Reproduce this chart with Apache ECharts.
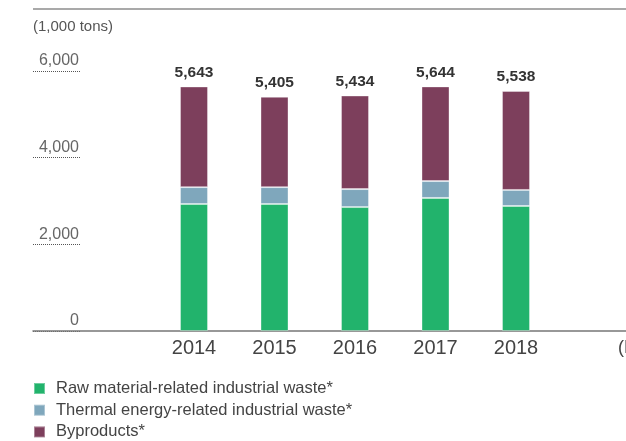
<!DOCTYPE html>
<html>
<head>
<meta charset="utf-8">
<script src="https://cdn.jsdelivr.net/npm/echarts@6/dist/echarts.min.js"></script>
<style>
  html, body { margin: 0; padding: 0; background: #fff; }
  #chart { width: 626px; height: 441px; }
</style>
</head>
<body>
<div id="chart"></div>
<script>
// 数据
const years = ['2014', '2015', '2016', '2017', '2018'];
const rawWaste = [2930, 2930, 2860, 3070, 2885];
const thermalWaste = [390, 390, 415, 390, 370];
const byproducts = [2323, 2085, 2159, 2184, 2283];
const totals = [5643, 5405, 5434, 5644, 5538];
const seriesNames = [
  'Raw material-related industrial waste*',
  'Thermal energy-related industrial waste*',
  'Byproducts*'
];
const colors = ['#22b36c', '#7fa7bc', '#7d3f5c'];

const font = 'Liberation Sans, Arial, sans-serif';

let myChart = echarts.init(document.getElementById('chart'));
let option = {
  animation: false,
  textStyle: { fontFamily: font },
  title: {
    text: '(1,000 tons)',
    left: 28,
    top: 14,
    textStyle: { fontSize: 15, fontWeight: 'normal', color: '#555', fontFamily: font }
  },
  graphic: [{
    type: 'line',
    shape: { x1: 33, y1: 9, x2: 626, y2: 9 },
    style: { stroke: '#8c8c8c', lineWidth: 1.5 }
  }],
  legend: {
    orient: 'vertical',
    left: 33,
    top: 380,
    padding: 0,
    itemWidth: 11,
    itemHeight: 11,
    itemGap: 4.7,
    icon: 'rect',
    data: seriesNames,
    textStyle: { fontSize: 16.5, color: '#444', lineHeight: 17, padding: [0, 0, 0, 6], fontFamily: font }
  },
  grid: [
    // 柱状图
    { left: 153.75, right: 69.75, top: 71, bottom: 110, outerBoundsMode: 'none' },
    // 左侧刻度
    { left: 33, width: 47, top: 71, bottom: 110, outerBoundsMode: 'none' },
    // 底部基线
    { left: 33, right: 0, top: 71, bottom: 110, outerBoundsMode: 'none' }
  ],
  xAxis: [{
    type: 'category',
    gridIndex: 0,
    data: years,
    axisLine: { show: false },
    axisTick: { show: false },
    axisLabel: { fontSize: 20, color: '#444', margin: 7 }
  }, {
    type: 'value',
    gridIndex: 1,
    show: false
  }, {
    type: 'value',
    gridIndex: 2,
    min: 0,
    max: 1,
    name: '(FY)',
    nameLocation: 'end',
    nameGap: -8,
    nameTextStyle: { fontSize: 18, color: '#444', align: 'left', verticalAlign: 'top', padding: [8, 0, 0, 0] },
    axisLine: { show: true, lineStyle: { color: '#777', width: 1.5 } },
    axisTick: { show: false },
    splitLine: { show: false },
    axisLabel: { show: false }
  }],
  yAxis: [{
    type: 'value',
    gridIndex: 0,
    min: 0,
    max: 6000,
    interval: 2000,
    show: false
  }, {
    type: 'value',
    gridIndex: 1,
    position: 'right',
    min: 0,
    max: 6000,
    interval: 2000,
    axisLine: { show: false },
    axisTick: { show: false },
    splitLine: { show: true, lineStyle: { type: 'dotted', color: '#555', width: 1 } },
    axisLabel: {
      inside: true,
      margin: 1,
      fontSize: 16,
      color: '#666',
      verticalAlign: 'bottom',
      padding: [0, 0, 2, 0],
      formatter: v => v.toLocaleString('en-US')
    }
  }, {
    type: 'value',
    gridIndex: 2,
    min: 0,
    max: 1,
    show: false
  }],
  series: [
    { name: seriesNames[0], data: rawWaste },
    { name: seriesNames[1], data: thermalWaste },
    {
      name: seriesNames[2],
      data: byproducts,
      label: {
        show: true,
        position: 'top',
        distance: 6,
        fontSize: 15.5,
        fontWeight: 'bold',
        color: '#333',
        formatter: p => totals[p.dataIndex].toLocaleString('en-US')
      }
    }
  ].map((s, i) => Object.assign({
    type: 'bar',
    stack: 'total',
    barWidth: 28,
    xAxisIndex: 0,
    yAxisIndex: 0,
    itemStyle: { color: colors[i], borderColor: 'rgba(255,255,255,0.35)', borderWidth: 1 }
  }, s))
};
myChart.setOption(option);
</script>
</body>
</html>
